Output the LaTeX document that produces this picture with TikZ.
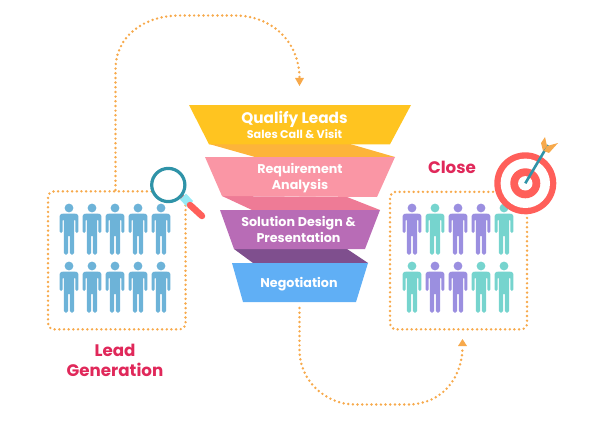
\documentclass[tikz,border=0pt]{standalone}
\usepackage{xcolor}
\usepackage{fontspec}
\usepackage{tikz}
\usetikzlibrary{arrows.meta,positioning,calc}
\setmainfont{Poppins}
\definecolor{leadblue}{HTML}{6DB3D8}
\definecolor{closepurple}{HTML}{9B8FE0}
\definecolor{closeteal}{HTML}{76D4CE}
\definecolor{dotorange}{HTML}{F7A94B}
\definecolor{titlered}{HTML}{E0285A}
\definecolor{lensteal}{HTML}{2F93A8}
\definecolor{lenscyan}{HTML}{96EAF5}
\definecolor{targetred}{HTML}{FF5F5A}
\definecolor{bandyellow}{HTML}{FFC420}
\definecolor{foldyellow}{HTML}{FDB43A}
\definecolor{bandpink}{HTML}{FA96A5}
\definecolor{foldpink}{HTML}{EE7B96}
\definecolor{bandpurple}{HTML}{B86CB6}
\definecolor{foldpurple}{HTML}{7F4F8E}
\definecolor{bandblue}{HTML}{60AFF5}

\begin{document}
\begin{tikzpicture}[
  x=1pt, y=-1pt,
  band/.style={align=center, text=white, font=\bfseries\fontsize{12.7}{16}\selectfont},
  title/.style={align=center, text=titlered, font=\bfseries\fontsize{16.7}{20}\selectfont},
  dotbox/.style={draw=dotorange, line width=2.7pt, line cap=round, dash pattern=on 0pt off 4.67pt, rounded corners=6pt},
  dotline/.style={draw=dotorange, line width=2.7pt, line cap=round, dash pattern=on 0pt off 4.67pt},
  tip/.style={fill=dotorange},
  person/.pic={
    \fill (0,0) circle (4.4);
    \fill[rounded corners=1.5] (-9.4,10.5) -- (-9.4,6.5) -- (-6.5,5.5) -- (6.5,5.5) -- (9.4,6.5) -- (9.4,25)
      -- (6.3,25) -- (6.3,11) -- (5.2,11) -- (5.2,46.5) -- (0.9,46.5) -- (0.9,27) -- (-0.9,27) -- (-0.9,46.5)
      -- (-5.2,46.5) -- (-5.2,11) -- (-6.3,11) -- (-6.3,25) -- (-9.4,25) -- cycle;
  }
]
\useasboundingbox (0,0) rectangle (600,428);

% funnel folds go under the bands
\fill[foldyellow] (209,144) -- (350,144) -- (395,157) -- (255,157) -- cycle;
\fill[foldpink] (222,196) -- (347,197) -- (380,210) -- (252,210) -- cycle;
\fill[foldpurple] (234,249) -- (347,249) -- (368,263) -- (253,263) -- cycle;

% funnel bands
\fill[bandyellow] (189,105) -- (411,105) -- (390,144.3) -- (209,144.3) -- cycle;
\fill[bandpink] (205,157) -- (395,157) -- (377,197) -- (222,196) -- cycle;
\fill[bandpurple] (220,210) -- (380,210) -- (365,249) -- (234,249) -- cycle;
\fill[bandblue] (232,263) -- (368,263) -- (356,302) -- (243,302) -- cycle;

\node[band, font=\bfseries\fontsize{15.3}{16}\selectfont] (qualify) at (294.5,119) {Qualify Leads};
\node[band, font=\bfseries\fontsize{11.2}{12}\selectfont] (sales) at (294.5,134.5) {Sales Call \& Visit};
\node[band] (req) at (300,178) {Requirement\\Analysis};
\node[band] (sol) at (298.5,229.5) {Solution Design \&\\Presentation};
\node[band] (nego) at (299,284.5) {Negotiation};

% dotted frames
\node[dotbox, minimum width=137.5pt, minimum height=138pt, anchor=north west] (leadbox) at (46.7,190) {};
\node[dotbox, minimum width=137pt, minimum height=137.5pt, anchor=north west] (closebox) at (388.7,190.5) {};

\node[title] (lead) at (115,360) {Lead\\Generation};
\node[title] (close) at (452,167.5) {Close};

% people
\foreach \px in {69,92,115,138,161}
  \foreach \py in {208,266}
    \pic[fill=leadblue] at (\px,\py) {person};
\foreach \px/\pcol in {412/closepurple,435/closeteal,458/closepurple,481/closepurple,504/closeteal}
  \pic[fill=\pcol] at (\px,208) {person};
\foreach \px/\pcol in {412/closeteal,435/closepurple,458/closepurple,481/closeteal,504/closeteal}
  \pic[fill=\pcol] at (\px,266) {person};

% connectors
\coordinate (leadout) at (115.5,190);
\coordinate (topend) at (299.5,79);
\coordinate (botstart) at (299.5,308);
\coordinate (botend) at (462.5,346);
\draw[dotline] (leadout) -- (115.5,70) .. controls (115.5,35) and (145,15.5) .. (180,15.5) -- (235,15.5) .. controls (270,15.5) and (299.5,40) .. (topend);
\draw[dotline] (botstart) -- (299.5,350) .. controls (299.5,380) and (325,404.5) .. (355,404.5) -- (408,404.5) .. controls (440,404.5) and (462.5,380) .. (botend);
\fill[tip] (295,78) -- (304,78) -- (299.5,86) -- cycle;
\fill[tip] (458,346) -- (467,346) -- (462.5,339) -- cycle;

% magnifier
\fill[targetred] (179,197) -- (182,194) -- (186,197) -- (183,201) -- cycle;
\fill[lenscyan] (180,199.5) -- (186,193.5) -- (193,201) -- (187,207) -- cycle;
\draw[targetred, line width=6.5pt, line cap=round] (190,205) -- (202,216);
\draw[lensteal, line width=3.2pt, fill=white] (168.3,185) circle (16.6);

% target
\fill[targetred] (525.3,183.3) circle (31);
\fill[white] (525.3,183.3) circle (24.7);
\fill[targetred] (525.3,183.3) circle (15);
\fill[white] (525.3,183.3) circle (7.2);
\draw[lensteal, line width=2.6pt] (525.3,183.3) -- (548,145);
\fill[dotorange] (541,143) -- (545,137) -- (547,146) -- (543,151) -- cycle;
\fill[dotorange] (547,146) -- (558,143) -- (549,153) -- (544,151) -- cycle;
\end{tikzpicture}
\end{document}
